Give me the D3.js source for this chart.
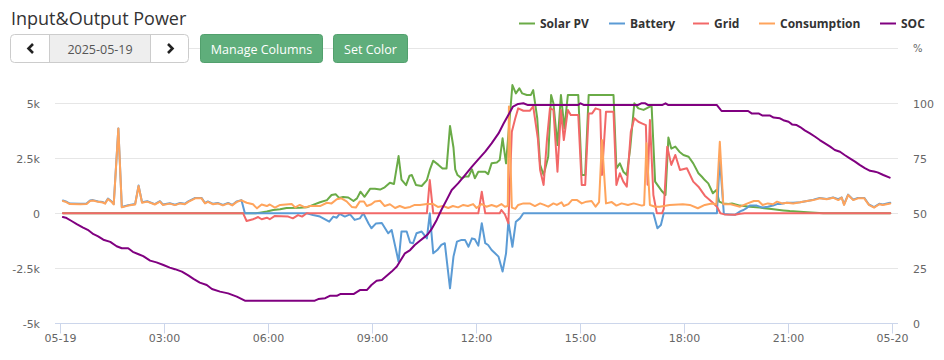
<!DOCTYPE html>
<html><head><meta charset="utf-8">
<script src="https://cdn.jsdelivr.net/npm/d3@7/dist/d3.min.js"></script>
<style>
html,body{margin:0;padding:0;background:#fff;}
svg{display:block;}
</style></head><body>
<svg id="c" width="944" height="360"></svg>
<script>
// ---- DATA (minutes after 00:00, value) ----
const seriesNames = ["Solar PV","Battery","Grid","Consumption","SOC"];
const seriesColors = ["#6aab47","#5b9bd5","#f26868","#ffa45c","#800080"];
const xTickMinutes = [0,180,360,540,720,900,1080,1260,1440];
const xTickLabels = ["05-19","03:00","06:00","09:00","12:00","15:00","18:00","21:00","05-20"];
const leftTicks = [-5000,-2500,0,2500,5000,7500];
const leftTickLabels = ["-5k","-2.5k","0","2.5k","5k",""];
const rightTicks = [0,25,50,75,100];
const rightTickLabels = ["0","25","50","75","100"];
const dateLabel = "2025-05-19";

const solar = [[5,0],[338,0],[346,30],[358,80],[369,150],[381,180],[392,240],[415,250],[427,270],[438,380],[450,500],[462,600],[470,830],[477,870],[483,700],[490,740],[499,720],[508,560],[514,680],[520,980],[527,750],[537,1120],[545,1120],[554,1080],[562,1180],[571,1390],[578,1330],[586,2600],[591,1530],[599,1280],[605,1710],[609,1740],[616,1290],[626,1240],[635,1510],[640,1970],[646,2390],[655,2200],[662,2040],[669,2040],[675,3970],[681,2990],[684,2000],[688,1740],[695,1590],[701,1670],[707,1670],[713,2000],[718,1590],[724,1890],[736,1890],[741,1780],[747,2270],[756,2310],[761,2420],[766,3410],[772,2270],[783,5830],[789,5450],[795,5680],[800,5450],[808,5380],[815,5380],[819,5600],[826,4320],[831,2200],[837,1740],[845,2570],[850,5380],[854,5000],[861,3100],[867,5380],[873,3860],[879,5380],[897,5380],[903,1740],[909,1740],[915,5380],[958,5380],[963,2040],[969,2270],[975,1890],[981,1740],[987,2990],[994,5000],[1001,4770],[1010,4700],[1021,4850],[1024,4850],[1030,1440],[1042,1000],[1048,830],[1053,3450],[1058,2940],[1065,3030],[1072,2800],[1079,2650],[1088,2570],[1096,2270],[1105,1820],[1111,1660],[1116,1510],[1122,1360],[1130,910],[1136,1060],[1141,530],[1148,450],[1157,420],[1163,450],[1177,350],[1194,300],[1211,260],[1235,180],[1252,130],[1263,100],[1293,50],[1321,0],[1437,0]];

const battery = [[5,580],[10,540],[17,440],[35,430],[46,440],[52,580],[57,600],[66,540],[74,510],[78,460],[83,670],[90,520],[93,420],[101,3860],[107,290],[118,370],[130,420],[136,1260],[142,500],[151,550],[164,420],[173,550],[178,400],[190,460],[199,390],[208,470],[216,430],[222,540],[234,700],[245,700],[251,470],[256,540],[265,430],[273,470],[282,380],[291,470],[298,380],[306,540],[314,600],[320,0],[427,0],[438,-80],[450,-150],[466,-380],[473,-150],[479,-200],[484,-30],[493,-150],[502,-50],[510,-300],[519,-230],[525,0],[534,-460],[539,-680],[547,-460],[557,-440],[568,-910],[574,-760],[586,-2200],[591,-830],[600,-830],[606,-1330],[611,-1360],[617,-910],[626,-830],[635,-1140],[640,0],[646,-1820],[653,-1670],[660,-1440],[666,-1360],[675,-3410],[681,-1970],[687,-1290],[695,-1210],[701,-1210],[707,-1520],[713,-1140],[718,-1180],[724,-1470],[730,-450],[736,-1360],[741,-1440],[747,-1670],[753,-1820],[759,-1970],[766,-2650],[772,-1820],[776,-380],[783,-1520],[789,-380],[796,-230],[802,0],[1027,0],[1034,-680],[1040,-530],[1045,0],[1137,0],[1142,2500],[1149,-30],[1159,-50],[1168,-70],[1178,100],[1183,150],[1189,250],[1194,350],[1206,350],[1216,260],[1225,300],[1234,350],[1241,420],[1246,420],[1258,480],[1269,480],[1281,500],[1293,560],[1304,620],[1315,700],[1327,650],[1338,720],[1347,640],[1353,720],[1357,400],[1364,850],[1373,620],[1381,700],[1392,700],[1400,400],[1409,280],[1418,430],[1424,400],[1437,480]];

const grid = [[5,0],[317,0],[323,-350],[334,-270],[343,-170],[349,-270],[358,-200],[363,-270],[372,-120],[395,-150],[403,-230],[412,-80],[419,-150],[427,0],[635,0],[640,1510],[646,0],[724,0],[730,980],[736,0],[761,0],[764,150],[770,-50],[776,-450],[782,3710],[788,4320],[793,4770],[802,4660],[813,4660],[819,4860],[827,3410],[831,1970],[837,1290],[843,3410],[848,4770],[854,4700],[861,1890],[867,4700],[872,3330],[879,4700],[884,4470],[897,4470],[903,1290],[909,1290],[915,4540],[921,4540],[927,4770],[935,4700],[938,1740],[945,4620],[958,4620],[963,1290],[969,1820],[975,1440],[981,1210],[988,3710],[994,4320],[1001,4160],[1007,4090],[1014,4010],[1017,1300],[1021,4240],[1027,830],[1033,0],[1042,0],[1045,200],[1051,3030],[1058,2200],[1065,2650],[1073,1970],[1085,2050],[1096,1440],[1105,1210],[1116,800],[1128,530],[1137,300],[1143,0],[1150,-50],[1168,-70],[1177,-20],[1185,0],[1437,0]];

const consumption = [[5,560],[10,520],[17,420],[35,410],[46,420],[52,560],[57,580],[66,520],[74,490],[78,440],[83,650],[90,500],[93,400],[101,3860],[107,270],[118,350],[130,400],[136,1240],[142,480],[151,530],[164,400],[173,530],[178,380],[190,440],[199,370],[208,450],[216,410],[222,520],[234,680],[245,680],[251,450],[256,520],[265,410],[273,450],[282,360],[291,450],[298,360],[306,520],[314,590],[323,480],[334,410],[341,225],[349,400],[358,330],[363,400],[372,260],[381,380],[401,420],[407,270],[415,380],[424,270],[433,330],[450,330],[462,480],[470,450],[479,640],[487,680],[496,540],[505,290],[512,260],[519,540],[526,540],[531,330],[539,410],[545,540],[554,570],[562,330],[571,410],[580,240],[588,330],[597,240],[606,290],[614,380],[623,380],[635,420],[646,420],[654,290],[663,330],[672,240],[680,330],[689,270],[698,380],[706,330],[715,420],[721,240],[730,420],[738,300],[747,380],[756,300],[764,420],[770,300],[775,330],[777,4850],[782,260],[788,200],[793,380],[802,450],[813,450],[822,330],[831,450],[838,380],[845,300],[854,450],[860,380],[868,500],[872,330],[880,420],[886,600],[895,600],[903,450],[911,530],[920,560],[927,300],[933,510],[938,3330],[945,450],[955,510],[963,350],[972,450],[983,380],[993,450],[1007,350],[1011,380],[1015,3180],[1021,380],[1030,300],[1038,300],[1055,380],[1078,410],[1090,380],[1104,230],[1116,380],[1128,450],[1136,410],[1142,3250],[1148,410],[1161,410],[1177,300],[1190,450],[1201,560],[1209,560],[1216,380],[1225,450],[1234,410],[1241,530],[1250,450],[1258,480],[1269,450],[1281,500],[1293,560],[1304,600],[1315,680],[1327,640],[1338,710],[1347,600],[1353,710],[1357,380],[1364,830],[1373,600],[1381,680],[1392,680],[1400,380],[1409,260],[1418,410],[1424,380],[1437,450]];

const soc = [[5,48.3],[10,48],[20,46.5],[29,45.1],[40,43.5],[48,42.5],[58,40.5],[66,39.5],[75,38],[87,37],[98,35],[107,34.1],[118,34.1],[126,32.5],[136,31.4],[144,30.5],[156,28.5],[167,27.7],[179,26.5],[190,25.3],[199,24.6],[211,23.5],[222,21.8],[231,20.2],[242,18.5],[254,17.4],[263,15.6],[277,14.4],[291,13.6],[306,12.1],[320,10.3],[441,10.3],[447,11],[459,11.4],[467,12.5],[479,12.5],[485,13.3],[508,13.3],[519,15.1],[531,15.1],[539,17.4],[548,19.3],[557,19.7],[565,21.5],[574,23.5],[583,25.8],[588,28],[597,31.8],[606,33.3],[614,35.6],[623,37.5],[632,39.4],[637,40.6],[643,42.8],[652,47],[660,51.5],[669,56],[678,60.6],[689,63.6],[701,67.4],[713,71.2],[724,74.5],[736,78],[747,81.8],[759,86.3],[768,90.9],[776,94.7],[784,98.5],[793,99.7],[802,100],[810,99.2],[897,99.2],[901,100],[907,99.2],[1000,99.2],[1006,100],[1013,100],[1018,99.2],[1042,99.2],[1048,100],[1053,99.2],[1137,99.2],[1145,96.5],[1191,96.5],[1197,95.4],[1209,95.4],[1216,94.4],[1229,94.4],[1235,93.5],[1246,93.2],[1252,92.3],[1261,91.6],[1267,90.4],[1275,90.1],[1281,89.2],[1289,87.7],[1298,86.3],[1307,84.8],[1315,83.3],[1324,81.8],[1333,80.3],[1341,78.8],[1350,78],[1358,76.5],[1367,75],[1376,73.5],[1384,72],[1393,70.5],[1402,69.3],[1409,69],[1415,68.6],[1425,67.4],[1436,66.2]];

// ---- LAYOUT ----
const svg = d3.select("#c");
const plotL = 55, plotR = 898;
const x = d3.scaleLinear().domain([0,1440]).range([60,892]);
const yL = d3.scaleLinear().domain([-5000,7500]).range([323.3,48.3]);
const yR = d3.scaleLinear().domain([0,125]).range([323.3,48.3]);
const axisFont = "DejaVu Sans, sans-serif";

// gridlines
svg.append("g").selectAll("line").data(leftTicks.filter(d=>d>-5000)).join("line")
  .attr("x1",plotL).attr("x2",plotR)
  .attr("y1",d=>Math.round(yL(d))+0.5).attr("y2",d=>Math.round(yL(d))+0.5)
  .attr("stroke","#e6e6e6").attr("stroke-width",1);

// x axis line + ticks
const xAxis = d3.axisBottom(x).tickValues(xTickMinutes).tickFormat((d,i)=>xTickLabels[i]).tickSize(10).tickSizeOuter(0);
const gx = svg.append("g").attr("transform",`translate(0,${Math.round(yL(-5000))+0.5})`).call(xAxis);
gx.select(".domain").attr("d",`M${plotL},0H${plotR}`).attr("stroke","#ccd6eb");
gx.selectAll(".tick line").attr("stroke","#ccd6eb");
gx.selectAll(".tick text").attr("fill","#666").attr("font-family",axisFont).attr("font-size",11).attr("dy",0).attr("y",18);

// left axis labels
const yAxisL = d3.axisLeft(yL).tickValues(leftTicks).tickFormat((d,i)=>leftTickLabels[i]).tickSize(0);
const gyl = svg.append("g").attr("transform","translate(47,0)").call(yAxisL);
gyl.select(".domain").remove();
gyl.selectAll(".tick text").attr("fill","#666").attr("font-family",axisFont).attr("font-size",11).attr("x",-7).attr("dy","0.34em");

// right axis labels
const yAxisR = d3.axisRight(yR).tickValues(rightTicks).tickFormat((d,i)=>rightTickLabels[i]).tickSize(0);
const gyr = svg.append("g").attr("transform","translate(905,0)").call(yAxisR);
gyr.select(".domain").remove();
gyr.selectAll(".tick text").attr("fill","#666").attr("font-family",axisFont).attr("font-size",11).attr("x",8).attr("dy","0.34em");
svg.append("text").attr("x",913).attr("y",52).attr("fill","#666").attr("font-family",axisFont).attr("font-size",10).text("%");

// series
const allSeries = [solar,battery,grid,consumption,soc];
allSeries.forEach((s,i)=>{
  const ys = i===4 ? yR : yL;
  const line = d3.line().x(d=>x(d[0])).y(d=>ys(d[1]));
  svg.append("path").datum(s).attr("d",line).attr("fill","none")
    .attr("stroke",seriesColors[i]).attr("stroke-width",2)
    .attr("stroke-linejoin","round").attr("stroke-linecap","round");
});

// legend
const legendX = [519,609,693,759,880];
const lg = svg.append("g");
seriesNames.forEach((n,i)=>{
  lg.append("line").attr("x1",legendX[i]).attr("x2",legendX[i]+16).attr("y1",23.5).attr("y2",23.5)
    .attr("stroke",seriesColors[i]).attr("stroke-width",2);
  lg.append("text").attr("x",legendX[i]+21).attr("y",27.5).attr("fill","#333")
    .attr("font-family","Open Sans, sans-serif").attr("font-weight","bold").attr("font-size",12).text(n);
});

// title
svg.append("text").attr("x",11).attr("y",25).attr("fill","#333")
  .attr("font-family","Open Sans, sans-serif").attr("font-size",18).text("Input&Output Power");

// date picker
const ui = svg.append("g").attr("font-family","Open Sans, sans-serif");
ui.append("rect").attr("x",10.5).attr("y",34.5).attr("width",178).attr("height",28).attr("rx",4)
  .attr("fill","#fff").attr("stroke","#ccc");
ui.append("rect").attr("x",49.5).attr("y",35).attr("width",101).attr("height",27).attr("fill","#eee");
ui.append("line").attr("x1",49.5).attr("x2",49.5).attr("y1",35).attr("y2",62).attr("stroke","#ccc");
ui.append("line").attr("x1",150.5).attr("x2",150.5).attr("y1",35).attr("y2",62).attr("stroke","#ccc");
ui.append("path").attr("d","M33,44L28.5,48.5L33,53").attr("fill","none").attr("stroke","#222").attr("stroke-width",2.6);
ui.append("path").attr("d","M168,44L172.5,48.5L168,53").attr("fill","none").attr("stroke","#222").attr("stroke-width",2.6);
ui.append("text").attr("x",100).attr("y",54).attr("text-anchor","middle").attr("fill","#555").attr("font-size",12.5).text(dateLabel);

// buttons
const btns = [{x:200.5,w:122,t:"Manage Columns"},{x:333.5,w:74,t:"Set Color"}];
btns.forEach(b=>{
  ui.append("rect").attr("x",b.x).attr("y",34.5).attr("width",b.w).attr("height",28).attr("rx",3)
    .attr("fill","#5fae7b").attr("stroke","#52a06d");
  ui.append("text").attr("x",b.x+b.w/2).attr("y",54).attr("text-anchor","middle").attr("fill","#fff")
    .attr("font-size",12.5).text(b.t);
});
</script>
</body></html>
